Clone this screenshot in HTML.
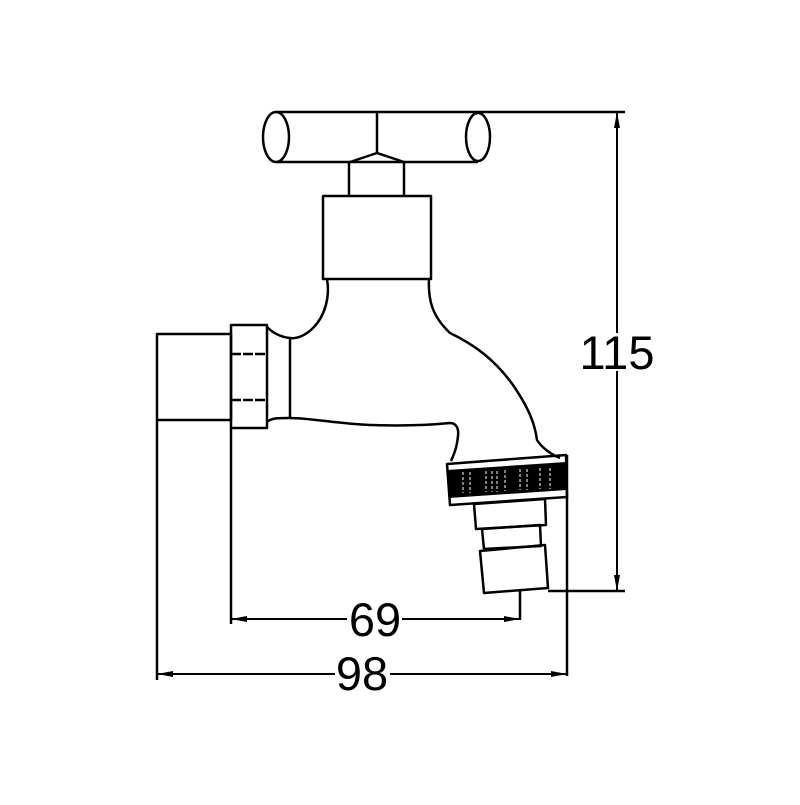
<!DOCTYPE html>
<html><head><style>html,body{margin:0;padding:0;background:#fff}</style></head>
<body>
<svg width="800" height="800" viewBox="0 0 800 800" xmlns="http://www.w3.org/2000/svg">
<rect width="800" height="800" fill="#fff"/>
<g fill="none" stroke="#000" stroke-width="2.5" stroke-linejoin="round">
<!-- handle -->
<ellipse cx="276" cy="137" rx="13" ry="25"/>
<ellipse cx="478" cy="137" rx="12" ry="24"/>
<line x1="276" y1="112" x2="625" y2="112"/>
<line x1="276" y1="162" x2="478" y2="162"/>
<line x1="377" y1="112" x2="377" y2="153"/>
<polyline points="350,162 377,153 404,162"/>
<line x1="349" y1="162" x2="349" y2="196"/>
<line x1="404" y1="162" x2="404" y2="196"/>
<rect x="323" y="196" width="108" height="83"/>
<!-- body -->
<path d="M327,279 C330,295 326,315 313,328 C305,336 296,339 290,338 C280,337 272,332 267,327"/>
<path d="M429,279 C428,300 432,316 450,333 C475,345 495,360 513,385 C530,410 535,425 537,440 C542,448 552,455 560,458"/>
<path d="M267,422 C272,418 276,418 290,418 C310,418 340,424 370,425 C400,426 430,425 450,423 C456,423 459,428 458,436 C457,446 455,452 451,461"/>
<line x1="290" y1="338" x2="290" y2="418"/>
<rect x="231" y="325" width="36" height="103"/>
<line x1="231" y1="354" x2="267" y2="354" stroke-dasharray="10,2"/>
<line x1="231" y1="400" x2="267" y2="400" stroke-dasharray="10,2"/>
<rect x="157" y="334" width="74" height="86"/>
<line x1="157" y1="420" x2="157" y2="680"/>
<line x1="231" y1="428" x2="231" y2="624"/>
<!-- knurled ring -->
<polygon points="447,464 566,455 567,497 450,505"/>
</g>
<polygon points="447,470 566,462 567,490 449,498" fill="#000"/>
<g stroke="#fff" stroke-width="1" stroke-dasharray="3,2">
<line x1="463" y1="472" x2="463" y2="493"/><line x1="470" y1="472" x2="470" y2="493"/>
<line x1="486" y1="471" x2="486" y2="492"/><line x1="492" y1="471" x2="492" y2="492"/>
<line x1="497" y1="471" x2="497" y2="492"/><line x1="505" y1="470" x2="505" y2="491"/>
<line x1="520" y1="469" x2="520" y2="490"/><line x1="527" y1="469" x2="527" y2="490"/>
<line x1="540" y1="468" x2="540" y2="489"/><line x1="550" y1="468" x2="550" y2="489"/>
</g>
<g fill="none" stroke="#000" stroke-width="2.5" stroke-linejoin="round">
<polygon points="474,504 545,499 546,525 476,529"/>
<polygon points="482,529 540,525 541,546 484,549"/>
<polygon points="480,551 545,545 548,588 484,593"/>
<!-- dimensions -->
<line x1="567" y1="455" x2="567" y2="676"/>
<line x1="520" y1="590" x2="520" y2="620"/>
<line x1="548" y1="591" x2="625" y2="591"/>
<line x1="617" y1="112" x2="617" y2="591" stroke-width="2"/>
<line x1="231" y1="619" x2="520" y2="619" stroke-width="2"/>
<line x1="157" y1="674" x2="567" y2="674" stroke-width="2"/>
</g>
<g fill="#000">
<polygon points="231,619 247,616 247,622"/>
<polygon points="520,619 504,616 504,622"/>
<polygon points="157,674 173,671 173,677"/>
<polygon points="567,674 551,671 551,677"/>
<polygon points="617,112 614,128 620,128"/>
<polygon points="617,591 614,575 620,575"/>
</g>
<rect x="347" y="602" width="55" height="36" fill="#fff"/>
<rect x="335" y="656" width="55" height="36" fill="#fff"/>
<rect x="581" y="333" width="72" height="38" fill="#fff"/>
<g font-family="Liberation Sans, sans-serif" font-size="47" fill="#000" text-anchor="middle">
<text x="375" y="636">69</text>
<text x="362" y="690">98</text>
<text x="617" y="369">115</text>
</g>
</svg>
</body></html>
